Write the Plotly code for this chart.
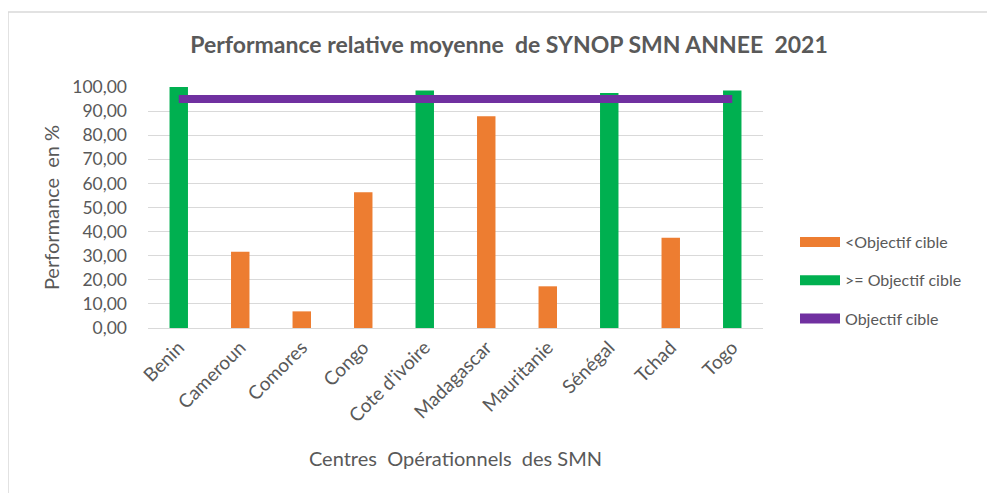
import plotly.graph_objects as go

categories = ["Benin", "Cameroun", "Comores", "Congo", "Cote d'ivoire",
              "Madagascar", "Mauritanie", "Sénégal", "Tchad", "Togo"]
below_target = [None, 31.6, 6.9, 56.3, None, 87.9, 17.3, None, 37.4, None]
above_target = [100.0, None, None, None, 98.5, None, None, 97.5, None, 98.5]
target = [95.0] * len(categories)
y_ticks = [0, 10, 20, 30, 40, 50, 60, 70, 80, 90, 100]

FONT = "Lato"
GREY = "#595959"
ORANGE = "#ED7D31"
GREEN = "#00B050"
PURPLE = "#7030A0"

# page body adds an 8px offset; positions below are reference pixels
OFF = 8
W, H = 995, 493
PL, PR, PT, PB = 148 - OFF, 763 - OFF, 87 - OFF, 328 - OFF


def px_x(p):
    return (p - OFF - PL) / (PR - PL)


def px_y(q):
    return (PB - (q - OFF)) / (PB - PT)


fig = go.Figure()
fig.add_trace(go.Bar(x=categories, y=below_target, name="<Objectif cible",
                     marker=dict(color=ORANGE, line=dict(width=0)),
                     width=0.3, showlegend=False))
fig.add_trace(go.Bar(x=categories, y=above_target, name=">= Objectif cible",
                     marker=dict(color=GREEN, line=dict(width=0)),
                     width=0.3, showlegend=False))
fig.add_trace(go.Scatter(x=categories, y=target, name="Objectif cible",
                         mode="lines", line=dict(color=PURPLE, width=8),
                         showlegend=False))
# legend entries (wide swatches like the original)
for name, col, grp in [("<Objectif cible", ORANGE, "a"),
                       (">= Objectif cible", GREEN, "b"),
                       ("Objectif cible", PURPLE, "c")]:
    fig.add_trace(go.Scatter(x=[None], y=[None], name=name, mode="lines",
                             line=dict(color=col, width=10), legendgroup=grp))

fig.update_layout(
    width=W, height=H,
    margin=dict(l=PL, r=W - PR, t=PT, b=H - PB, autoexpand=False),
    paper_bgcolor="white", plot_bgcolor="white",
    barmode="overlay",
    separators=", ",
    font=dict(family=FONT, color=GREY, size=15),
    title=dict(text="<b>Performance relative moyenne  de SYNOP SMN ANNEE  2021</b>",
               x=px_x(509), xref="paper", xanchor="center",
               y=1 - (45 - OFF) / H, yref="container", yanchor="middle",
               font=dict(family=FONT, size=23, color=GREY)),
    xaxis=dict(
        tickangle=-45, showgrid=False, showline=True, linecolor="#D9D9D9",
        linewidth=1, ticks="", tickfont=dict(size=19, color=GREY),
        title=dict(text="Centres  Opérationnels  des SMN",
                   font=dict(size=20, color=GREY), standoff=26),
        range=[-0.5, len(categories) - 0.5],
    ),
    yaxis=dict(
        range=[0, 100], tickvals=y_ticks, tickformat=".2f",
        showgrid=True, gridcolor="#D9D9D9", gridwidth=1, zeroline=False,
        tickfont=dict(size=17.5, color=GREY), ticklabelstandoff=20,
        title=dict(text="Performance  en %", font=dict(size=20, color=GREY),
                   standoff=7),
    ),
    legend=dict(x=px_x(795), y=px_y(225), xanchor="left", yanchor="top",
                font=dict(size=16, color=GREY), tracegroupgap=14.5,
                bgcolor="rgba(0,0,0,0)", traceorder="grouped", itemwidth=40),
    shapes=[dict(type="rect", xref="paper", yref="paper",
                 x0=px_x(8), x1=px_x(1010), y0=px_y(12), y1=px_y(510),
                 line=dict(color="#D9D9D9", width=1.5), layer="below")],
)

fig.write_html("out.html")
